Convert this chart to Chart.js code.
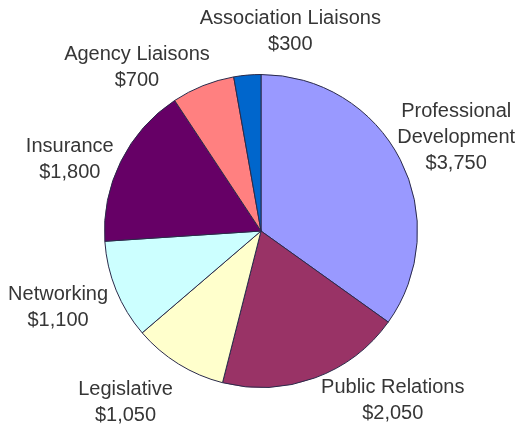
<!DOCTYPE html>
<html>
<head>
<meta charset="utf-8">
<script src="https://cdn.jsdelivr.net/npm/chart.js@4/dist/chart.umd.min.js"></script>
<style>
  html, body { margin: 0; padding: 0; background: #fff; }
  #wrap { width: 521px; height: 428px; position: relative; }
</style>
</head>
<body>
<div id="wrap"><canvas id="chart"></canvas></div>
<script>
// budget slices, clockwise from 12 o'clock
var categories = ['Professional Development', 'Public Relations', 'Legislative', 'Networking', 'Insurance', 'Agency Liaisons', 'Association Liaisons'];
var amounts = [3750, 2050, 1050, 1100, 1800, 700, 300];
// how each label is broken into lines
var labelLines = [
    ['Professional', 'Development'],
    ['Public Relations'],
    ['Legislative'],
    ['Networking'],
    ['Insurance'],
    ['Agency Liaisons'],
    ['Association Liaisons']
];
var sliceColors = ['#9999ff', '#993366', '#ffffcc', '#ccffff', '#660066', '#ff8080', '#0066cc'];

// label block centre, relative to the point on the rim at the slice's mid angle
var labelNudge = [[56, -22], [78, 23], [-53, 38], [-58, 17], [-51, -2], [-66, -18], [43, -44]];

function money(v) {
    return '$' + v.toLocaleString('en-US');
}

var outsideLabels = {
    id: 'outsideLabels',
    afterDatasetsDraw: function(chart) {
        var ctx = chart.ctx;
        var meta = chart.getDatasetMeta(0);
        ctx.save();
        ctx.font = '20px "Liberation Sans", Arial, sans-serif';
        ctx.fillStyle = '#363636';
        ctx.textAlign = 'center';
        ctx.textBaseline = 'middle';
        var lineH = 26;
        meta.data.forEach(function(arc, i) {
            var p = arc.getProps(['x', 'y', 'startAngle', 'endAngle', 'outerRadius'], true);
            var mid = (p.startAngle + p.endAngle) / 2;
            var ex = p.x + Math.cos(mid) * p.outerRadius;
            var ey = p.y + Math.sin(mid) * p.outerRadius;
            var cx = ex + labelNudge[i][0];
            var cy = ey + labelNudge[i][1];
            var lines = labelLines[i].concat([money(amounts[i])]);
            var top = cy - (lines.length - 1) * lineH / 2;
            lines.forEach(function(t, k) {
                ctx.fillText(t, cx, top + k * lineH);
            });
        });
        ctx.restore();
    }
};

var ctx = document.getElementById('chart').getContext('2d');
var myChart = new Chart(ctx, {
    type: 'pie',
    data: {
        labels: categories,
        datasets: [{
            data: amounts,
            backgroundColor: sliceColors,
            borderColor: '#2a2a4a',
            borderWidth: 1
        }]
    },
    options: {
        responsive: true,
        maintainAspectRatio: false,
        animation: false,
        layout: { padding: { left: 104, right: 103, top: 74, bottom: 40 } },
        plugins: {
            legend: { display: false },
            tooltip: { enabled: false }
        }
    },
    plugins: [outsideLabels]
});
</script>
</body>
</html>
